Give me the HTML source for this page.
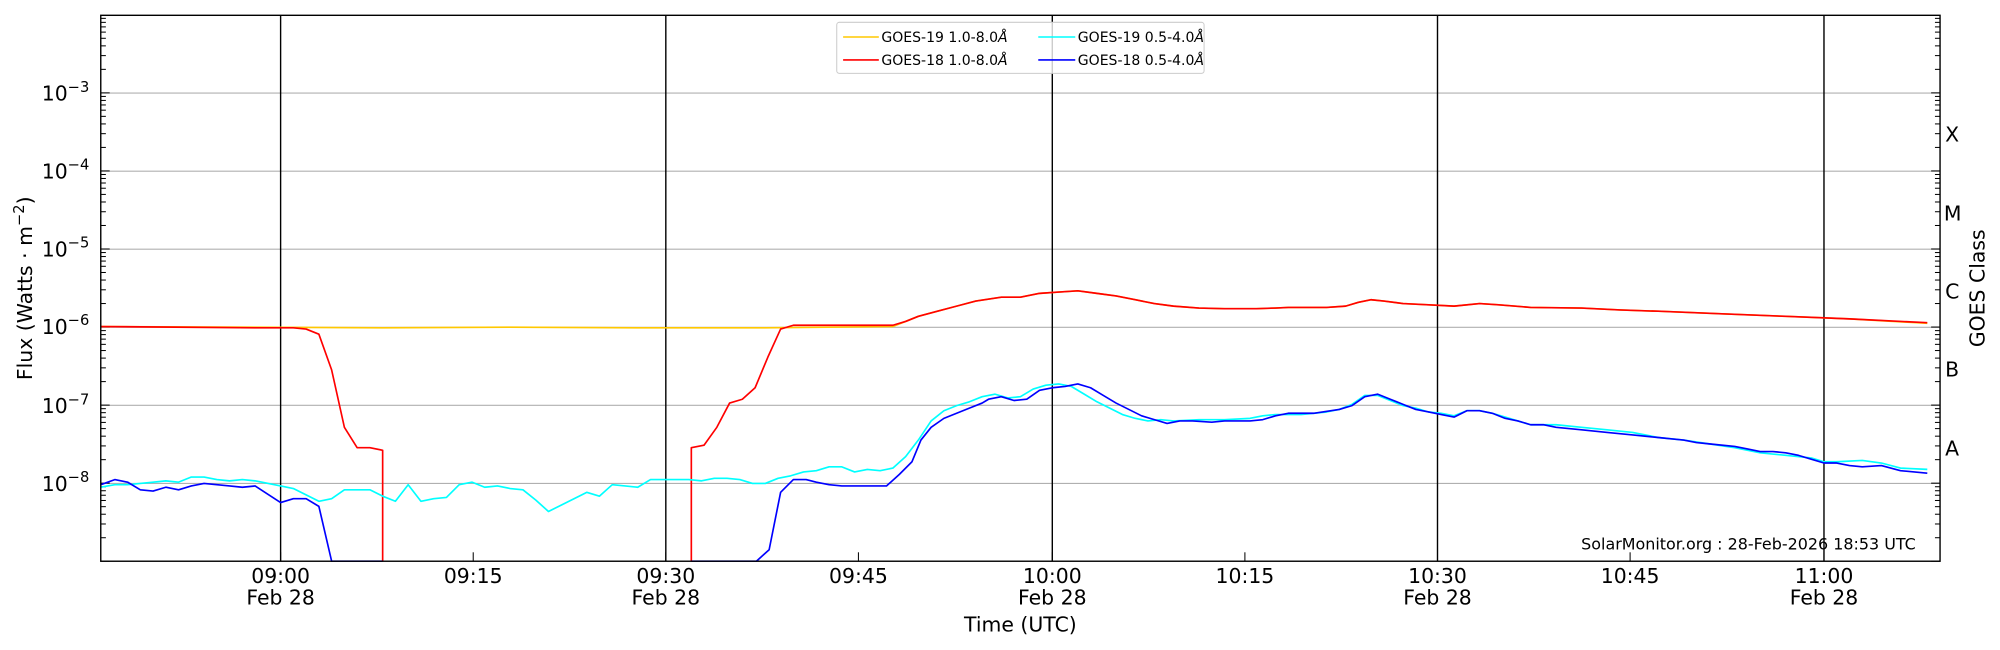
<!DOCTYPE html>
<html><head><meta charset="utf-8"><style>
html,body{margin:0;padding:0;background:#fff;}
svg{display:block;font-family:"DejaVu Sans","Liberation Sans",sans-serif;}
</style></head><body>
<svg width="2000" height="650" viewBox="0 0 1568 509.6" preserveAspectRatio="none" xmlns="http://www.w3.org/2000/svg">
<rect width="1568" height="510" fill="#fff"/>
<g stroke="#b0b0b0" stroke-width="0.9">
<line x1="79" x2="1521" y1="73" y2="73"/><line x1="79" x2="1521" y1="134.2" y2="134.2"/>
<line x1="79" x2="1521" y1="195.4" y2="195.4"/><line x1="79" x2="1521" y1="256.6" y2="256.6"/>
<line x1="79" x2="1521" y1="317.8" y2="317.8"/><line x1="79" x2="1521" y1="379" y2="379"/>
</g>
<g stroke="#000" stroke-width="1.1">
<line x1="220" x2="220" y1="12" y2="440"/><line x1="522" x2="522" y1="12" y2="440"/>
<line x1="825" x2="825" y1="12" y2="440"/><line x1="1127" x2="1127" y1="12" y2="440"/>
<line x1="1430" x2="1430" y1="12" y2="440"/>
</g>
<g id="ticks" stroke="#000" stroke-width="0.8"></g>
<g fill="none" stroke-width="1.3" stroke-linejoin="round">
<polyline stroke="#ffc800" points="79,256 300,257 400,256.5 500,257 600,257 700,256 710,252 720,248 735,244 750,240 765,236 785,233 800,233 815,230 830,229 845,228 860,230 875,232 890,235 905,238 920,240 940,241.5 960,242 985,242 1000,241.5 1010,241 1040,241 1055,240 1065,237 1075,235 1085,236 1100,238 1120,239 1140,240 1160,238 1175,239 1200,241 1240,241.5 1270,243 1300,244 1350,246 1400,248 1450,250 1511,253.5"/>
<polyline stroke="#ff0000" points="79,256 200,257 230,257 240,258 250,262 260,290 270,335 280,351 290,351 300,353 300,440"/>
<polyline stroke="#ff0000" points="542,440 542,351 552,349 562,335 572,316 582,313 592,304 602,280 612,258 622,255 640,255 700,255 710,252 720,248 735,244 750,240 765,236 785,233 800,233 815,230 830,229 845,228 860,230 875,232 890,235 905,238 920,240 940,241.5 960,242 985,242 1000,241.5 1010,241 1040,241 1055,240 1065,237 1075,235 1085,236 1100,238 1120,239 1140,240 1160,238 1175,239 1200,241 1240,241.5 1270,243 1300,244 1350,246 1400,248 1450,250 1511,253"/>
<polyline stroke="#00ffff" points="79,382 90,380 100,380 110,379 120,378 130,377 140,378 150,374 160,374 170,376 180,377 190,376 200,377 220,381 230,383 240,388 250,393 260,391 270,384 280,384 290,384 300,389 310,393 320,380 330,393 340,391 350,390 360,380 370,378 380,382 390,381 400,383 410,384 420,392 430,401 440,396 450,391 460,386 470,389 480,380 490,381 500,382 510,376 520,376 530,376 540,376 550,377 560,375 570,375 580,376 590,379 600,379 610,375 620,373 630,370 640,369 650,366 660,366 670,370 680,368 690,369 700,367 710,358 720,345 730,330 740,322 750,318 760,315 770,311 780,309 790,312 800,311 810,305 820,302 830,301 840,303 850,309 860,315 870,320 880,325 890,328 900,330 910,329 920,330 940,329 960,329 980,328 990,326 1000,325 1020,325 1040,323 1050,321 1060,317 1070,310 1080,310 1090,314 1100,318 1110,320 1120,323 1130,324 1140,326 1150,322 1160,322 1170,324 1180,327 1190,330 1200,333 1220,333 1240,335 1260,337 1280,339 1300,343 1320,345 1340,348 1360,351 1380,355 1400,357 1420,359 1430,362 1440,362 1460,361 1475,363 1490,367 1511,368"/>
<polyline stroke="#0000ff" points="79,380 90,376 100,378 110,384 120,385 130,382 140,384 150,381 160,379 170,380 180,381 190,382 200,381 220,394 230,391 240,391 250,397 260,440 300,440"/>
<polyline stroke="#0000ff" points="542,440 593,440 603,431 612,386 622,376 632,376 640,378 650,380 660,381 670,381 680,381 695,381 705,372 715,362 722,345 730,335 740,328 750,324 760,320 770,316 775,313 785,311 795,314 805,313 815,306 825,304 835,303 845,301 855,304 865,310 875,316 885,321 895,326 905,329 915,332 925,330 935,330 950,331 960,330 980,330 990,329 1000,326 1010,324 1030,324 1050,321 1060,318 1070,311 1080,309 1090,313 1100,317 1110,321 1120,323 1130,325 1140,327 1150,322 1160,322 1170,324 1180,328 1190,330 1200,333 1210,333 1220,335 1230,336 1240,337 1260,339 1280,341 1300,343 1310,344 1320,345 1330,347 1340,348 1360,350 1370,352 1380,354 1390,354 1400,355 1410,357 1420,360 1430,363 1440,363 1450,365 1460,366 1475,365 1490,369 1511,371"/>
</g>
<rect x="79" y="12" width="1442" height="428" fill="none" stroke="#000" stroke-width="1.1"/>
<g font-size="16" text-anchor="end" fill="#000">
<text x="70" y="79">10<tspan dy="-7" font-size="11.5">−3</tspan></text>
<text x="70" y="140">10<tspan dy="-7" font-size="11.5">−4</tspan></text>
<text x="70" y="201">10<tspan dy="-7" font-size="11.5">−5</tspan></text>
<text x="70" y="262">10<tspan dy="-7" font-size="11.5">−6</tspan></text>
<text x="70" y="324">10<tspan dy="-7" font-size="11.5">−7</tspan></text>
<text x="70" y="385">10<tspan dy="-7" font-size="11.5">−8</tspan></text>
</g>
<text transform="translate(25,226) rotate(-90)" font-size="16" text-anchor="middle">Flux (Watts · m<tspan dy="-6" font-size="11.5">−2</tspan><tspan dy="6">)</tspan></text>
<g font-size="16" fill="#000">
<text x="1525" y="111">X</text><text x="1524" y="173">M</text><text x="1525" y="234">C</text>
<text x="1525" y="295">B</text><text x="1525" y="357">A</text>
</g>
<text transform="translate(1556,226) rotate(-90)" font-size="16" text-anchor="middle">GOES Class</text>
<g font-size="16" text-anchor="middle">
<text x="220" y="457">09:00</text><text x="220" y="474">Feb 28</text>
<text x="371" y="457">09:15</text>
<text x="522" y="457">09:30</text><text x="522" y="474">Feb 28</text>
<text x="673" y="457">09:45</text>
<text x="825" y="457">10:00</text><text x="825" y="474">Feb 28</text>
<text x="976" y="457">10:15</text>
<text x="1127" y="457">10:30</text><text x="1127" y="474">Feb 28</text>
<text x="1278" y="457">10:45</text>
<text x="1430" y="457">11:00</text><text x="1430" y="474">Feb 28</text>
<text x="800" y="495">Time (UTC)</text>
</g>
<text x="1502" y="431" font-size="12.5" text-anchor="end">SolarMonitor.org : 28-Feb-2026 18:53 UTC</text>
<g>
<rect x="656" y="17.5" width="288" height="40" rx="2" fill="#fff" fill-opacity="0.8" stroke="#ccc" stroke-width="0.8"/>
<line x1="661" x2="689" y1="29" y2="29" stroke="#ffc800" stroke-width="1.2"/>
<line x1="661" x2="689" y1="47" y2="47" stroke="#ff0000" stroke-width="1.2"/>
<line x1="814" x2="843" y1="29" y2="29" stroke="#00ffff" stroke-width="1.2"/>
<line x1="814" x2="843" y1="47" y2="47" stroke="#0000ff" stroke-width="1.2"/>
<g font-size="11">
<text x="691" y="33">GOES-19 1.0-8.0<tspan font-style="italic">Å</tspan></text>
<text x="691" y="51">GOES-18 1.0-8.0<tspan font-style="italic">Å</tspan></text>
<text x="845" y="33">GOES-19 0.5-4.0<tspan font-style="italic">Å</tspan></text>
<text x="845" y="51">GOES-18 0.5-4.0<tspan font-style="italic">Å</tspan></text>
</g>
</g>
</svg>
<script>
(function(){
var g=document.getElementById('ticks'),s='';
var dec=61.2,y9=440;
for(var d=0;d<7;d++){for(var k=1;k<10;k++){
 var y=y9-(d+Math.log10(k))*dec; if(y<12)continue;
 var L=(k==1)?7:4;
 s+='<line x1="79" x2="'+(79+L)+'" y1="'+y+'" y2="'+y+'"/>';
 s+='<line x1="1521" x2="'+(1521-L)+'" y1="'+y+'" y2="'+y+'"/>';
}}
var xs=[220,371,522,673,825,976,1127,1278,1430];
for(var i=0;i<xs.length;i++){s+='<line x1="'+xs[i]+'" x2="'+xs[i]+'" y1="440" y2="433"/>';}
g.innerHTML=s;
})();
</script>
</body></html>
